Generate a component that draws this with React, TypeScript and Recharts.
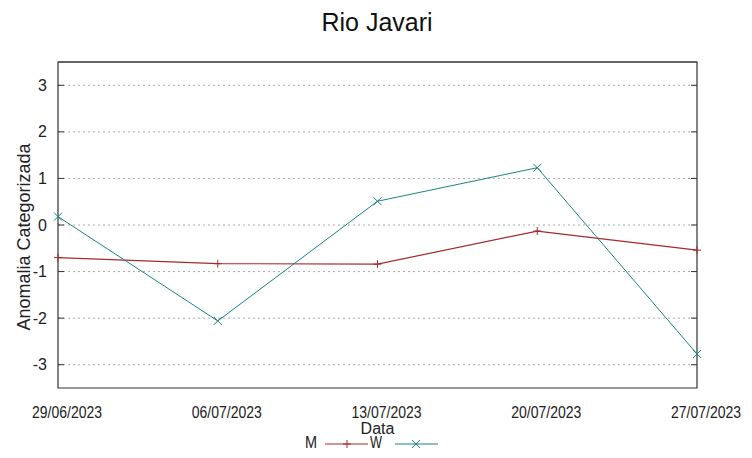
import {
  CartesianGrid,
  Line,
  LineChart,
  ReferenceArea,
  ReferenceLine,
  XAxis,
  YAxis,
} from "recharts";

const dates = ["29/06/2023", "06/07/2023", "13/07/2023", "20/07/2023", "27/07/2023"];
const mValues = [-0.7, -0.83, -0.84, -0.13, -0.54];
const wValues = [0.18, -2.06, 0.51, 1.23, -2.77];
const yTicks = [-3, -2, -1, 0, 1, 2, 3];

const series = [
  { key: "M", color: "#a52a2a", marker: "plus" },
  { key: "W", color: "#1b8383", marker: "cross" },
];

const data = dates.map((date, i) => ({ date, M: mValues[i], W: wValues[i] }));

const FONT = "'Liberation Sans', Arial, sans-serif";

const PlusDot = (props: any) => {
  const { cx, cy, stroke } = props;
  if (cx == null || cy == null) return null;
  return (
    <g>
      <line x1={cx - 4} x2={cx + 4} y1={cy} y2={cy} stroke={stroke} strokeWidth={1} />
      <line x1={cx} x2={cx} y1={cy - 4} y2={cy + 4} stroke={stroke} strokeWidth={1} />
    </g>
  );
};

const CrossDot = (props: any) => {
  const { cx, cy, stroke } = props;
  if (cx == null || cy == null) return null;
  return (
    <g>
      <line x1={cx - 4} x2={cx + 4} y1={cy - 4} y2={cy + 4} stroke={stroke} strokeWidth={1} />
      <line x1={cx - 4} x2={cx + 4} y1={cy + 4} y2={cy - 4} stroke={stroke} strokeWidth={1} />
    </g>
  );
};

const LeftTick = (props: any) => {
  const { x, y, payload } = props;
  return (
    <g>
      <text x={x} y={y} dy={5.5} textAnchor="end" fontSize={16} fill="#222" fontFamily={FONT}>
        {payload.value}
      </text>
      <line x1={x + 11} x2={x + 17} y1={y} y2={y} stroke="#333" />
    </g>
  );
};

const RightTick = (props: any) => {
  const { x, y } = props;
  return <line x1={x - 6} x2={x} y1={y} y2={y} stroke="#333" />;
};

const BottomTick = (props: any) => {
  const { x, y, payload } = props;
  return (
    <text
      x={x + 9}
      y={y + 30}
      textAnchor="middle"
      fontSize={16}
      fill="#222"
      fontFamily={FONT}
      textLength={70}
      lengthAdjust="spacingAndGlyphs"
    >
      {payload.value}
    </text>
  );
};

const LegendOverlay = () => (
  <svg width={752} height={458} style={{ position: "absolute", left: 0, top: 0, pointerEvents: "none" }}>
    <text x={377} y={31} textAnchor="middle" fontSize={25} fill="#111" fontFamily={FONT}>
      Rio Javari
    </text>
    {series.map((s, i) => {
      const x0 = i === 0 ? 305 : 370;
      return (
        <g key={s.key}>
          <text
            x={x0 + 6}
            y={448}
            textAnchor="middle"
            fontSize={16}
            fill="#222"
            fontFamily={FONT}
            textLength={12}
            lengthAdjust="spacingAndGlyphs"
          >
            {s.key}
          </text>
          <line x1={x0 + 20 + i * 5} x2={x0 + 63 + i * 5} y1={444} y2={444} stroke={s.color} strokeWidth={1.2} />
          {s.marker === "plus" ? (
            <PlusDot cx={x0 + 42} cy={444} stroke={s.color} />
          ) : (
            <CrossDot cx={x0 + 46} cy={444} stroke={s.color} />
          )}
        </g>
      );
    })}
  </svg>
);

export default function App() {
  return (
    <div style={{ position: "absolute", left: 0, top: 0, width: 752, height: 458, background: "#fff" }}>
      <LineChart width={752} height={458} data={data} margin={{ top: 62, right: 0, bottom: 0, left: 0 }}>
        <CartesianGrid
          vertical={false}
          yAxisId="left"
          horizontalValues={yTicks}
          stroke="#aaa"
          strokeDasharray="2 3"
        />
        <XAxis
          dataKey="date"
          height={70}
          axisLine={false}
          tickLine={false}
          tickSize={0}
          tickMargin={0}
          interval={0}
          tick={<BottomTick />}
          label={(p: any) => {
            const vb = p.viewBox;
            return (
              <text
                x={vb.x + vb.width / 2}
                y={vb.y + 46}
                textAnchor="middle"
                fontSize={16}
                fill="#222"
                fontFamily={FONT}
              >
                Data
              </text>
            );
          }}
        />
        <YAxis
          yAxisId="left"
          width={58}
          type="number"
          domain={[-3.5, 3.5]}
          ticks={yTicks}
          allowDataOverflow
          axisLine={false}
          tickLine={false}
          tickSize={0}
          tickMargin={11}
          tick={<LeftTick />}
          label={(p: any) => {
            const vb = p.viewBox;
            const cx = 24;
            const cy = vb.y + vb.height / 2 + 12;
            return (
              <text
                x={cx}
                y={cy}
                transform={`rotate(-90 ${cx} ${cy})`}
                textAnchor="middle"
                dominantBaseline="central"
                fontSize={18}
                fill="#222"
                fontFamily={FONT}
              >
                Anomalia Categorizada
              </text>
            );
          }}
        />
        <YAxis
          yAxisId="right"
          orientation="right"
          width={55}
          type="number"
          domain={[-3.5, 3.5]}
          ticks={yTicks}
          allowDataOverflow
          axisLine={false}
          tickLine={false}
          tickSize={0}
          tickMargin={0}
          tick={<RightTick />}
        />
        <ReferenceArea
          yAxisId="left"
          x1={dates[0]}
          x2={dates[dates.length - 1]}
          y1={-3.5}
          y2={3.5}
          ifOverflow="visible"
          fill="none"
          stroke="#333"
          strokeWidth={1.2}
          fillOpacity={0}
        />
        <ReferenceLine yAxisId="left" y={3.5} stroke="#333" strokeWidth={1.2} ifOverflow="visible" />
        <Line
          yAxisId="left"
          dataKey="M"
          stroke={series[0].color}
          strokeWidth={1.2}
          dot={<PlusDot />}
          activeDot={false}
          isAnimationActive={false}
        />
        <Line
          yAxisId="right"
          dataKey="W"
          stroke={series[1].color}
          strokeWidth={1}
          dot={<CrossDot />}
          activeDot={false}
          isAnimationActive={false}
        />
      </LineChart>
      <LegendOverlay />
    </div>
  );
}
